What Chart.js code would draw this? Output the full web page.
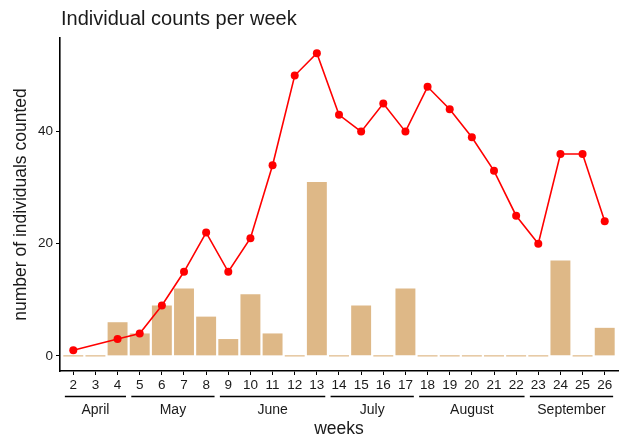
<!DOCTYPE html>
<html>
<head>
<meta charset="utf-8">
<script src="https://cdn.jsdelivr.net/npm/chart.js@4"></script>
<style>
  html, body { margin: 0; padding: 0; background: #fff; }
  #chart { display: block; }
</style>
</head>
<body>
<canvas id="chart" width="624" height="438"></canvas>
<script>
const weeks = [2, 3, 4, 5, 6, 7, 8, 9, 10, 11, 12, 13, 14, 15, 16, 17, 18, 19, 20, 21, 22, 23, 24, 25, 26];
const weeklyCounts = [0, 0, 6, 4, 9, 12, 7, 3, 11, 4, 0, 31, 0, 9, 0, 12, 0, 0, 0, 0, 0, 0, 17, 0, 5];
const cumulativeLine = [1, null, 3, 4, 9, 15, 22, 15, 21, 34, 50, 54, 43, 40, 45, 40, 48, 44, 39, 33, 25, 20, 36, 36, 24];
const yTicks = [0, 20, 40];
const months = ['April', 'May', 'June', 'July', 'August', 'September'];
const monthFirstWeek = [2, 5, 9, 14, 18, 23];
const monthLastWeek = [4, 8, 13, 17, 22, 26];

const FONT = '"Liberation Sans", Arial, Helvetica, sans-serif';
const INK = '#1a1a1a';

// titles, month brackets and axis labels drawn on top of the chart
const annotations = {
  id: 'annotations',
  afterDraw(chart) {
    const { ctx, chartArea, scales } = chart;
    const x = scales.x;
    ctx.save();
    ctx.fillStyle = INK;
    ctx.strokeStyle = '#000';

    ctx.font = '20px ' + FONT;
    ctx.textAlign = 'left';
    ctx.textBaseline = 'middle';
    ctx.fillText('Individual counts per week', 61, 19);

    ctx.font = '14px ' + FONT;
    ctx.textAlign = 'center';
    ctx.lineWidth = 1.5;
    months.forEach((m, i) => {
      const x1 = x.getPixelForValue(monthFirstWeek[i] - 0.38);
      const x2 = x.getPixelForValue(monthLastWeek[i] + 0.38);
      ctx.beginPath();
      ctx.moveTo(x1, 396.5);
      ctx.lineTo(x2, 396.5);
      ctx.stroke();
      ctx.fillText(m, (x1 + x2) / 2, 410);
    });

    ctx.font = '17.5px ' + FONT;
    ctx.fillText('weeks', (chartArea.left + chartArea.right) / 2, 429);

    ctx.translate(21, (chartArea.top + chartArea.bottom) / 2);
    ctx.rotate(-Math.PI / 2);
    ctx.fillText('number of individuals counted', 0, 0);
    ctx.restore();
  }
};

new Chart(document.getElementById('chart'), {
  data: {
    datasets: [
      {
        type: 'line',
        data: weeks.map((w, i) => ({ x: w, y: cumulativeLine[i] })),
        borderColor: '#ff0000',
        backgroundColor: '#ff0000',
        borderWidth: 1.6,
        pointRadius: 4,
        pointBorderWidth: 0,
        spanGaps: true,
        tension: 0,
        order: 1,
      },
      {
        type: 'bar',
        data: weeks.map((w, i) => ({ x: w, y: weeklyCounts[i] })),
        backgroundColor: '#DEB887',
        borderWidth: 0,
        minBarLength: 1.2,
        categoryPercentage: 0.9,
        barPercentage: 1,
        order: 2,
      },
    ],
  },
  options: {
    responsive: false,
    animation: false,
    layout: { padding: { top: 38, right: 6, bottom: 0, left: 0 } },
    plugins: {
      legend: { display: false },
      tooltip: { enabled: false },
    },
    scales: {
      x: {
        type: 'linear',
        offset: false,
        min: 1.4,
        max: 26.6,
        afterBuildTicks: (s) => { s.ticks = weeks.map((v) => ({ value: v })); },
        afterFit: (s) => { s.height = 67; },
        ticks: {
          color: INK,
          font: { family: FONT, size: 13.5 },
          padding: 2,
          maxRotation: 0,
          autoSkip: false,
          callback: (v) => String(v),
        },
        grid: { drawOnChartArea: false, offset: false, tickLength: 4, color: '#000', lineWidth: 1 },
        border: { color: '#000', width: 1.6 },
      },
      y: {
        min: -2.7,
        max: 56.7,
        afterBuildTicks: (s) => { s.ticks = yTicks.map((v) => ({ value: v })); },
        afterFit: (s) => { s.width = 60; },
        ticks: {
          color: INK,
          font: { family: FONT, size: 13.5 },
          padding: 3,
        },
        grid: { drawOnChartArea: false, tickLength: 4, color: '#000', lineWidth: 1 },
        border: { color: '#000', width: 1.6 },
      },
    },
  },
  plugins: [annotations],
});
</script>
</body>
</html>
